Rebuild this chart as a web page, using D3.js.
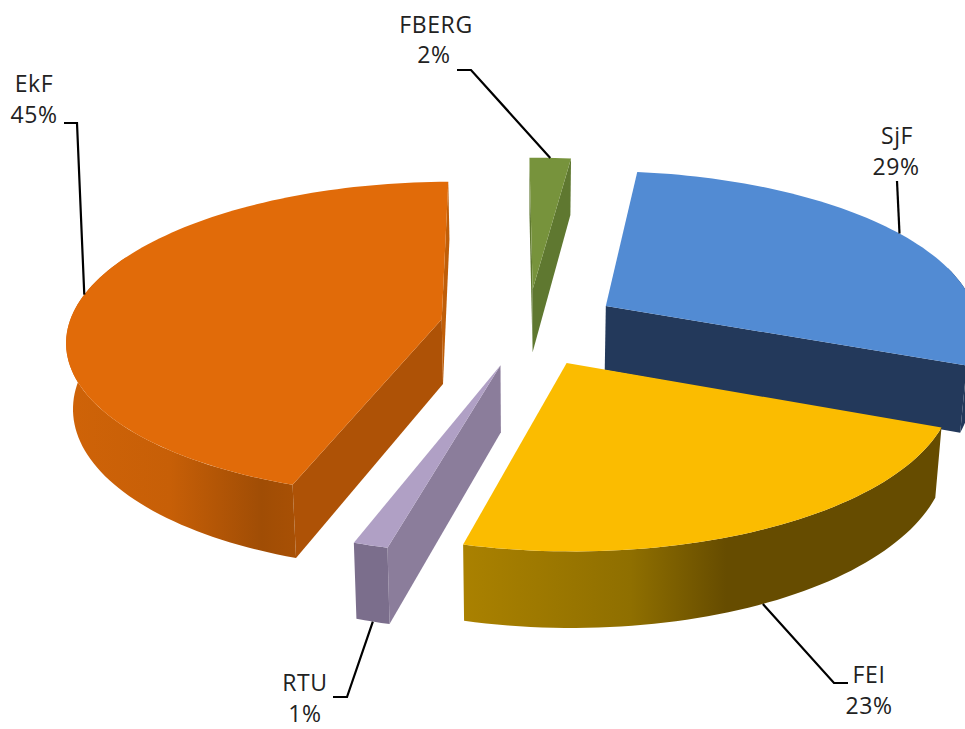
<!DOCTYPE html>
<html>
<head>
<meta charset="utf-8">
<script src="https://cdn.jsdelivr.net/npm/d3@7/dist/d3.min.js"></script>
<style>
html,body{margin:0;padding:0;background:#fff;overflow:hidden}
text{font-family:"Open Sans",sans-serif;font-size:23px;letter-spacing:0.6px;fill:#222;text-anchor:middle}
</style>
</head>
<body>
<svg id="chart" width="965" height="729"></svg>
<script>
// data
const categories = ["SjF", "FEI", "RTU", "EkF", "FBERG"];
const shares = [29.2, 22.9, 1.3, 44.55, 2.05];
// style
const topColors = ["#528bd3", "#fbbc00", "#b0a0c5", "#e16b09", "#77933c"];
const startWallColors = ["#23395b", "#664c00", "#8b7d9b", "#ae5206", "#5f7830"];
const endWallColors = ["#23395b", "#664c00", "#8b7d9b", "#c05e08", "#5f7830"];
const outerGradients = [
  [["0%", "#23395b"], ["100%", "#23395b"]],
  [["0%", "#aa8100"], ["35%", "#8f6f00"], ["55%", "#664c00"], ["100%", "#664c00"]],
  [["0%", "#7b6e8c"], ["100%", "#7b6e8c"]],
  [["0%", "#cf6308"], ["45%", "#c75f07"], ["85%", "#a04d05"], ["100%", "#a85005"]],
  [["0%", "#5f7830"], ["100%", "#5f7830"]]
];
// layout
const W = 965, H = 729;
const cx = 526, cy = 326, rx = 373, ry = 156, persp = 0.125, depth = 65, explode = 0.23, drop = 0.015;
const rotationDeg = 6.9;
const sliceNudge = [[7,-2],[1,4],[0,4],[0,-1],[2,-2]];
const labelLayout = [
  {name:[897,144], pct:[896,175], leader:[[897,181]]},
  {name:[869,683], pct:[869,714], leader:[[848,683],[834,683]]},
  {name:[305,691], pct:[305,722], leader:[[333,697],[347,697]]},
  {name:[34,92],   pct:[34,123],  leader:[[64,123],[77,123]]},
  {name:[436,33],  pct:[434,63],  leader:[[457,70],[471,70]]}
];

const rad = Math.PI / 180;
const pie = d3.pie().sort(null).value(d => d)
  .startAngle(rotationDeg * rad).endAngle((rotationDeg + 360) * rad);
const arcs = pie(shares);

// perspective projection of a point on a slice (radius r at angle t, level z: 0 top, 1 bottom)
function project(arc, t, r, z) {
  const mid = (arc.startAngle + arc.endAngle) / 2;
  const X = explode * Math.sin(mid) + r * Math.sin(t);
  const Y = explode * Math.cos(mid) + r * Math.cos(t);
  const k = 1 / (1 + persp * Y);
  const n = sliceNudge[arc.index];
  return [cx + n[0] + rx * X * k * (1 - drop * z), cy + n[1] + (-ry * Y + depth * z) * k];
}
const line = d3.line();
const svg = d3.select("#chart");
const defs = svg.append("defs");

function sweep(a0, a1) {
  const n = Math.max(2, Math.ceil((a1 - a0) / (1.5 * rad)));
  return d3.range(n + 1).map(i => a0 + (a1 - a0) * i / n);
}

const order = [4, 0, 3, 2, 1];
order.forEach(i => {
  const a = arcs[i], g = svg.append("g").attr("class", "slice " + categories[i]);
  const s = a.startAngle, e = a.endAngle;
  const wall = t => [project(a,t,0,0), project(a,t,1,0), project(a,t,1,1), project(a,t,0,1)];
  // a radial wall is drawn only when its projected outline faces the viewer
  if (d3.polygonArea(wall(s)) > 0) g.append("path").attr("d", line(wall(s)) + "Z").attr("fill", startWallColors[i]);
  if (d3.polygonArea(wall(e)) < 0) g.append("path").attr("d", line(wall(e)) + "Z").attr("fill", endWallColors[i]);
  // outer wall: runs a little past the silhouette; the top face covers the excess
  const o0 = Math.max(s, 75 * rad), o1 = Math.min(e, 295 * rad);
  if (o1 > o0) {
    const id = "grad" + i;
    const gr = defs.append("linearGradient").attr("id", id);
    gr.selectAll("stop").data(outerGradients[i]).join("stop")
      .attr("offset", d => d[0]).attr("stop-color", d => d[1]);
    const ts = sweep(o0, o1);
    const pts = ts.map(t => project(a,t,1,0)).concat(ts.slice().reverse().map(t => project(a,t,1,1)));
    g.append("path").attr("d", line(pts) + "Z").attr("fill", `url(#${id})`);
  }
  const topPts = [project(a, 0, 0, 0)].concat(sweep(s, e).map(t => project(a,t,1,0)));
  g.append("path").attr("d", line(topPts) + "Z").attr("fill", topColors[i]);
});

// leaders and labels
arcs.forEach((a, i) => {
  const mid = (a.startAngle + a.endAngle) / 2;
  const anchor = project(a, mid, 1, Math.cos(mid) < 0 ? 1 : 0);
  const L = labelLayout[i];
  svg.append("path").attr("d", line(L.leader.concat([anchor])))
    .attr("fill", "none").attr("stroke", "#000").attr("stroke-width", 2.2);
  svg.append("text").attr("x", L.name[0]).attr("y", L.name[1]).text(categories[i]);
  svg.append("text").attr("x", L.pct[0]).attr("y", L.pct[1]).text(Math.round(shares[i]) + "%");
});
</script>
</body>
</html>
